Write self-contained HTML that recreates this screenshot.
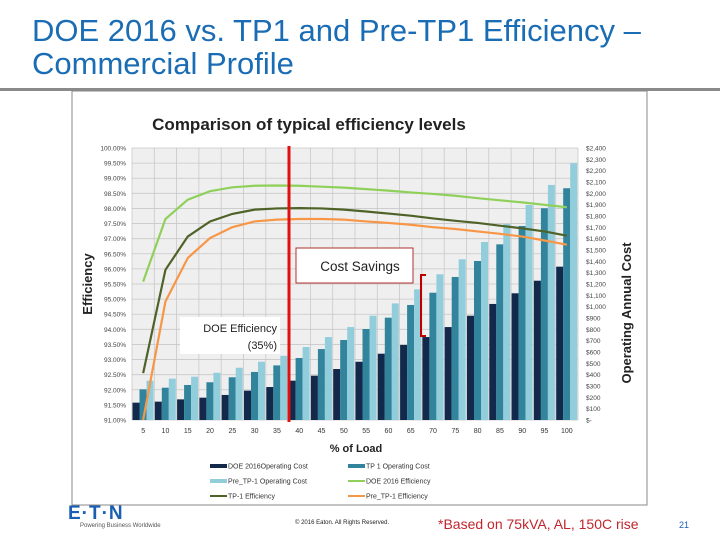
<!DOCTYPE html>
<html><head><meta charset="utf-8"><style>
body{margin:0;width:720px;height:540px;background:#fff;overflow:hidden;font-family:"Liberation Sans",sans-serif;position:relative}
.t{position:absolute;white-space:nowrap}
</style></head><body>
<div class="t" style="left:32px;top:14px;font-size:31px;line-height:33px;color:#1a6db4">DOE 2016 vs. TP1 and Pre-TP1 Efficiency –<br>Commercial Profile</div>
<div style="position:absolute;left:0;top:88px;width:720px;height:3px;background:#8a8a8a"></div>
<svg id="chart" width="720" height="540" style="position:absolute;left:0;top:0"></svg>
<div class="t" style="left:68px;top:503px;font-size:19px;font-weight:bold;color:#1a5fb4;letter-spacing:1px">E·T·N</div>
<div class="t" style="left:80px;top:523px;font-size:6px;color:#555">Powering Business Worldwide</div>
<div class="t" style="left:295px;top:520px;font-size:6px;color:#222">© 2016 Eaton. All Rights Reserved.</div>
<div class="t" style="left:438px;top:516px;font-size:14px;color:#c0262d">*Based on 75kVA, AL, 150C rise</div>
<div class="t" style="left:679px;top:520px;font-size:9px;color:#1a5fb4">21</div>
<script>
const categories=[5,10,15,20,25,30,35,40,45,50,55,60,65,70,75,80,85,90,95,100];
const doeCost=[153,162,182,197,221,259,291,347,391,450,514,585,662,732,820,920,1024,1118,1229,1353];
const tp1Cost=[271,285,309,333,377,424,482,547,626,706,803,903,1015,1123,1262,1403,1550,1712,1868,2045];
const preCost=[347,365,382,417,461,514,567,644,732,820,920,1029,1153,1286,1418,1571,1729,1897,2074,2265];
const doeEff=[95.58,97.65,98.29,98.57,98.70,98.75,98.76,98.75,98.72,98.69,98.64,98.59,98.53,98.48,98.42,98.34,98.27,98.20,98.12,98.04];
const tp1Eff=[92.55,95.97,97.07,97.57,97.82,97.96,98.00,98.01,98.00,97.96,97.90,97.83,97.76,97.67,97.59,97.52,97.43,97.34,97.24,97.10];
const preEff=[91.0,94.92,96.36,97.02,97.38,97.57,97.63,97.65,97.65,97.63,97.57,97.52,97.46,97.38,97.32,97.24,97.16,97.07,96.94,96.80];
const leftTicks=[91,91.5,92,92.5,93,93.5,94,94.5,95,95.5,96,96.5,97,97.5,98,98.5,99,99.5,100];
const rightTicks=[0,100,200,300,400,500,600,700,800,900,1000,1100,1200,1300,1400,1500,1600,1700,1800,1900,2000,2100,2200,2300,2400];

const NS='http://www.w3.org/2000/svg',svg=document.getElementById('chart');
const X0=132,X1=578,Y0=420,Y1=148,cw=(X1-X0)/categories.length;
const yE=v=>Y0-(v-91)/9*(Y0-Y1);
const yC=v=>Y0-v/2400*(Y0-Y1);
const xC=i=>X0+i*cw;
function el(tag,a,txt){const e=document.createElementNS(NS,tag);for(const k in a)e.setAttribute(k,a[k]);if(txt!=null)e.textContent=txt;svg.appendChild(e);return e;}

const fr=el('rect',{x:72,y:91,width:575,height:414,fill:'#fff',stroke:'#888','stroke-width':1});


const ct=el('text',{x:309,y:130,'text-anchor':'middle','font-size':17,'font-weight':'bold',fill:'#222'},'Comparison of typical efficiency levels');


const pa=el('rect',{x:X0,y:Y1,width:X1-X0,height:Y0-Y1,fill:'#efefef'});


leftTicks.forEach(v=>{
  const g=el('line',{x1:X0,x2:X1,y1:yE(v),y2:yE(v),stroke:'#c8c8c8','stroke-width':0.8});
  
  
  const t=el('text',{x:X0-6,y:yE(v)+2.5,'text-anchor':'end','font-size':6.5,fill:'#444'},v.toFixed(2)+'%');
  
  
});
for(let i=0;i<=categories.length;i++){
  const g=el('line',{x1:xC(i),x2:xC(i),y1:Y1,y2:Y0,stroke:'#c8c8c8','stroke-width':0.8});
  
  
}
rightTicks.forEach(v=>{
  const t=el('text',{x:586,y:yC(v)+2.5,'font-size':6.5,fill:'#444'},v===0?'$-':'$'+v.toLocaleString('en-US'));
  
  
});
const bw=7;
categories.forEach((c,i)=>{
  const x=xC(i)+0.5;
  [[doeCost,'#13294b','bar-doe2016-cost'],[tp1Cost,'#31849b','bar-tp1-cost'],[preCost,'#92cddc','bar-pretp1-cost']].forEach((s,k)=>{
    const y=yC(s[0][i]);
    const r=el('rect',{x:x+k*bw,y:y,width:bw,height:Y0-y,fill:s[1]});
    
    
  });
  const t=el('text',{x:xC(i)+cw/2,y:433,'text-anchor':'middle','font-size':7,fill:'#333'},c);
  
  
});
[[doeEff,'#8fd05a','line-doe2016-efficiency'],[tp1Eff,'#4f6228','line-tp1-efficiency'],[preEff,'#f79646','line-pretp1-efficiency']].forEach(s=>{
  const p=el('polyline',{points:s[0].map((v,i)=>(xC(i)+cw/2)+','+yE(v)).join(' '),fill:'none',stroke:s[1],'stroke-width':2.2});
  
  
});
const rl=el('line',{x1:289,x2:289,y1:146,y2:422,stroke:'#e01010','stroke-width':3});


const cb=el('rect',{x:296,y:248,width:117,height:35,fill:'#fff',stroke:'#b03030','stroke-width':1});


const cs=el('text',{x:360,y:271,'text-anchor':'middle','font-size':13.5,fill:'#222'},'Cost Savings');


const br=el('polyline',{points:'426,275 421,275 421,336 426,336',fill:'none',stroke:'#c00000','stroke-width':2});


const db=el('rect',{x:180,y:317,width:100,height:37,fill:'#fff'});


const d1=el('text',{x:277,y:332,'text-anchor':'end','font-size':11,fill:'#222'},'DOE Efficiency');


const d2=el('text',{x:277,y:349,'text-anchor':'end','font-size':11,fill:'#222'},'(35%)');


const yl=el('text',{x:0,y:0,transform:'translate(92,284) rotate(-90)','text-anchor':'middle','font-size':13,'font-weight':'bold',fill:'#222'},'Efficiency');


const yr=el('text',{x:0,y:0,transform:'translate(631,313) rotate(-90)','text-anchor':'middle','font-size':13,'font-weight':'bold',fill:'#222'},'Operating Annual Cost');


const xl=el('text',{x:356,y:452,'text-anchor':'middle','font-size':11,'font-weight':'bold',fill:'#222'},'% of Load');


const leg=[['DOE 2016Operating Cost','#13294b',210,466,'bar'],['TP 1 Operating Cost','#31849b',348,466,'bar'],['Pre_TP-1 Operating Cost','#92cddc',210,481,'bar'],['DOE 2016 Efficiency','#8fd05a',348,481,'line'],['TP-1 Efficiency','#4f6228',210,496,'line'],['Pre_TP-1 Efficiency','#f79646',348,496,'line']];
leg.forEach(l=>{
  const m=el('rect',{x:l[2],y:l[3]-(l[4]==='bar'?2:1),width:17,height:l[4]==='bar'?4:2,fill:l[1]});
  
  
  const t=el('text',{x:l[2]+18,y:l[3]+2.5,'font-size':7,fill:'#333'},l[0]);
  
  
});
</script>
</body></html>
